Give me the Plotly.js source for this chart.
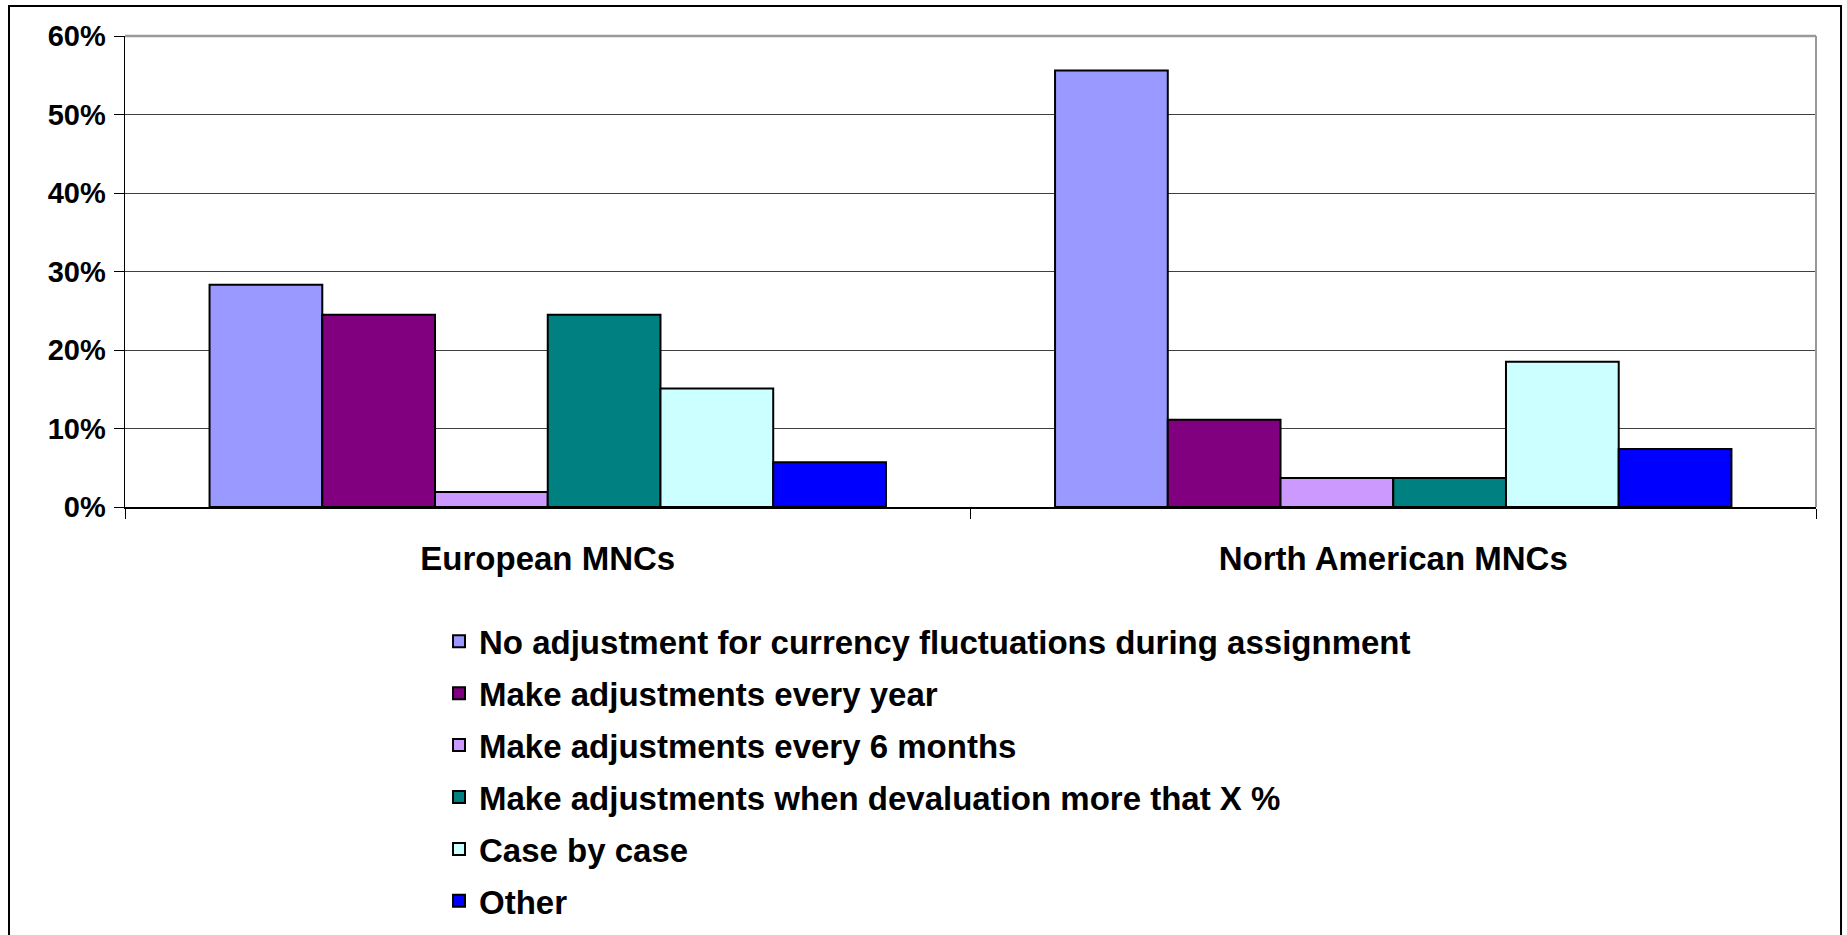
<!DOCTYPE html>
<html>
<head>
<meta charset="utf-8">
<script src="https://cdn.plot.ly/plotly-3.0.1.min.js"></script>
<style>
html,body{margin:0;padding:0;background:#fff;}
#chart{width:1847px;height:935px;}
</style>
</head>
<body>
<div id="chart"></div>
<script>
// ---- data ----
const categories = ["European MNCs", "North American MNCs"];
const seriesNames = [
  "No adjustment for currency fluctuations during assignment",
  "Make adjustments every year",
  "Make adjustments every 6 months",
  "Make adjustments when devaluation more that X %",
  "Case by case",
  "Other"
];
const noAdjustment   = [28.3, 55.6];
const everyYear      = [24.5, 11.1];
const every6Months   = [1.9, 3.7];
const whenDevaluation= [24.5, 3.7];
const caseByCase     = [15.1, 18.5];
const other          = [5.7, 7.4];
const seriesColors = ["#9999FF", "#800080", "#CC99FF", "#008080", "#CCFFFF", "#0000FF"];
const yTicks = [0, 10, 20, 30, 40, 50, 60];

const seriesValues = [noAdjustment, everyYear, every6Months, whenDevaluation, caseByCase, other];

const FONT = "Liberation Sans, Arial, Helvetica, sans-serif";

const traces = seriesValues.map((vals, i) => ({
  type: "bar",
  name: seriesNames[i],
  x: categories,
  y: vals,
  legendgroup: "g" + i,
  marker: { color: seriesColors[i], line: { color: "#000000", width: 2 } },
  hoverinfo: "skip"
}));

const layout = {
  width: 1847,
  height: 935,
  paper_bgcolor: "#ffffff",
  plot_bgcolor: "#ffffff",
  margin: { l: 125, r: 31, t: 36, b: 428, pad: 0, autoexpand: false },
  barmode: "group",
  bargap: 0.2,
  bargroupgap: 0,
  showlegend: true,
  font: { family: FONT, color: "#000000" },
  xaxis: {
    type: "category",
    automargin: false,
    showgrid: false,
    showline: true,
    linecolor: "#000000",
    linewidth: 1.5,
    ticks: "outside",
    tickson: "boundaries",
    ticklen: 10,
    tickcolor: "#000000",
    tickwidth: 1,
    tickangle: 0,
    ticklabelstandoff: 22,
    tickfont: { family: FONT, size: 33, weight: 700, color: "#000000" },
    zeroline: false
  },
  yaxis: {
    automargin: false,
    range: [0, 60],
    tickvals: yTicks,
    ticktext: yTicks.map(v => v + "%"),
    showgrid: true,
    gridcolor: "#404040",
    gridwidth: 1,
    showline: true,
    linecolor: "#000000",
    linewidth: 1.5,
    ticks: "outside",
    ticklen: 10,
    tickcolor: "#000000",
    tickwidth: 1,
    ticklabelstandoff: 2,
    tickfont: { family: FONT, size: 29, weight: 700, color: "#000000" },
    zeroline: false
  },
  legend: {
    orientation: "v",
    xref: "container",
    yref: "container",
    x: 0.2377,
    y: 0.344,
    xanchor: "left",
    yanchor: "top",
    traceorder: "grouped",
    tracegroupgap: 6,
    bgcolor: "rgba(0,0,0,0)",
    borderwidth: 0,
    font: { family: FONT, size: 33, weight: 700, color: "#000000" }
  },
  shapes: [
    // plot-area border (top & right, gray)
    { type: "line", xref: "paper", yref: "paper", x0: 0, x1: 1, y0: 1, y1: 1,
      line: { color: "#999999", width: 2.5 }, layer: "above" },
    { type: "line", xref: "paper", yref: "paper", x0: 1, x1: 1, y0: 0, y1: 1,
      line: { color: "#999999", width: 2 }, layer: "above" },
    // outer chart border
    { type: "rect", xref: "paper", yref: "paper",
      x0: -0.0686, x1: 1.0148, y0: -0.93, y1: 1.0637,
      line: { color: "#000000", width: 2 }, fillcolor: "rgba(0,0,0,0)", layer: "above" }
  ]
};

Plotly.newPlot("chart", traces, layout, { displayModeBar: false, staticPlot: true });
</script>
</body>
</html>
